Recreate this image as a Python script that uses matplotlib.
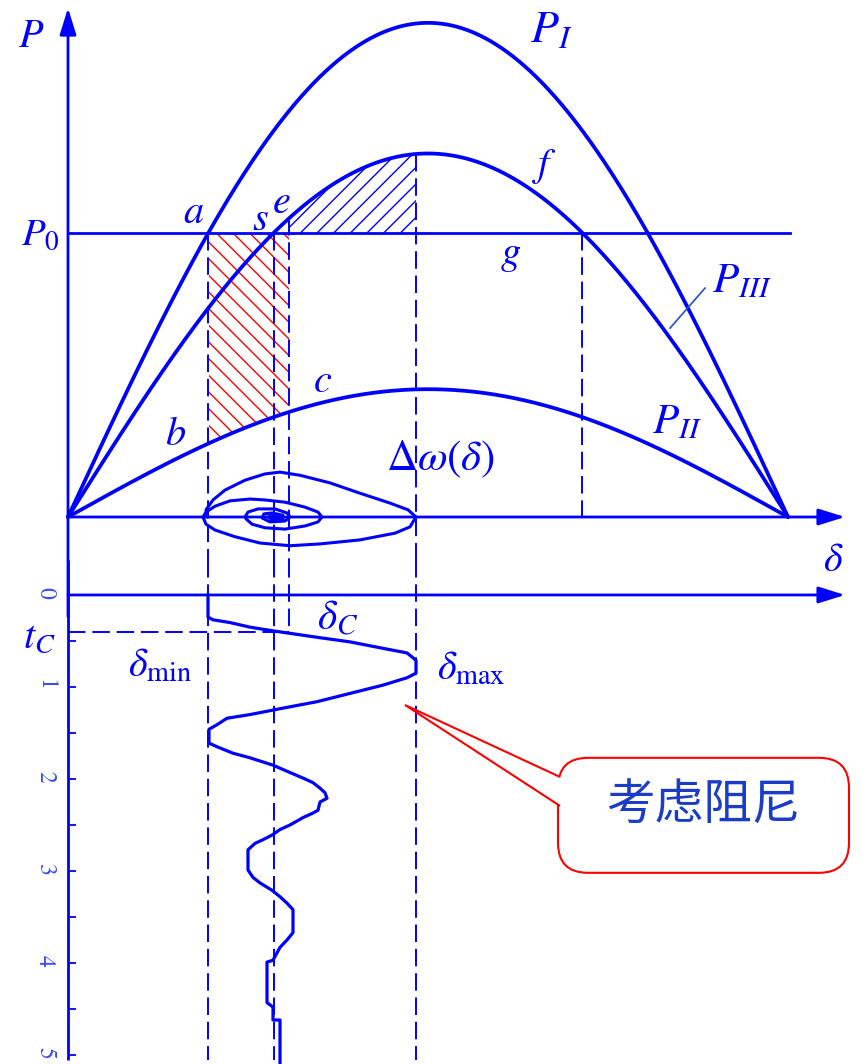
import numpy as np
import matplotlib.pyplot as plt
from matplotlib.patches import FancyBboxPatch, Polygon

plt.rcParams['mathtext.fontset'] = 'stix'
plt.rcParams['font.family'] = ['STIXGeneral', 'DejaVu Sans']
plt.rcParams['hatch.linewidth'] = 1.0

BLUE = '#0000ff'
RED = '#ff0000'

# 功角特性 (标幺值, P0 = 1)
P0 = 1.0
PI_MAX = 1.74     # 正常运行
PII_MAX = 0.45    # 故障中
PIII_MAX = 1.28   # 故障切除后
DELTA_C = 55.25   # 切除角 (deg)
DELTA_MAX = 87.0
T_C = 0.40        # 切除时间 (s)

# 相轨迹 Δω(δ)
traj_delta = [35.0, 34.5, 36.25, 39.25, 44.25, 49.25, 53.0, 58.0, 65.5, 73.0,
              80.5, 85.0, 87.0, 85.5, 81.75, 73.0, 63.0, 55.5, 48.0, 41.75,
              36.75, 34.5, 33.75, 34.5, 36.75, 40.5, 45.5, 49.25, 54.25, 59.25,
              62.5, 63.5, 62.5, 59.25, 54.25, 49.25, 46.0, 44.5, 44.25, 45.0,
              47.5, 51.75, 54.75, 55.5, 54.25, 50.5, 48.5, 49.0, 51.0, 53.75,
              53.75, 51.25, 50.0, 51.25, 52.5, 51.25]
traj_dw = [0.0, 0.16, 0.38, 0.60, 0.82, 0.96, 1.0, 0.93, 0.76, 0.53,
           0.31, 0.16, 0.0, -0.22, -0.36, -0.51, -0.60, -0.64, -0.58, -0.44,
           -0.29, -0.16, 0.0, 0.11, 0.24, 0.36, 0.40, 0.38, 0.33, 0.22,
           0.11, 0.0, -0.11, -0.20, -0.27, -0.24, -0.16, -0.04, 0.0, 0.11,
           0.18, 0.18, 0.09, 0.0, -0.09, -0.11, -0.02, 0.07, 0.09, 0.04,
           -0.04, -0.07, 0.0, 0.04, 0.0, -0.02]
DW_SCALE = 0.158  # P 轴上每单位 Δω 的高度

# 摇摆曲线 δ(t)
swing_delta = [35.0, 35.0, 36.25, 40.5, 45.5, 51.25, 62.25, 70.5, 78.75, 84.75,
               87.0, 87.0, 84.75, 78.75, 70.5, 62.25, 53.75, 45.5, 39.75, 37.25,
               35.25, 35.25, 37.25, 41.25, 45.5, 51.25, 55.5, 58.75, 61.25, 63.0,
               64.25, 64.75, 63.0, 62.5, 61.25, 58.75, 55.5, 53.0, 51.0, 48.75,
               46.75, 45.0, 45.0, 46.25, 48.0, 51.0, 53.0, 54.75, 56.25, 56.25,
               54.75, 53.0, 51.25, 49.75, 49.75, 51.25, 51.25, 53.0, 53.0]
swing_t = [0.0, 0.24, 0.27, 0.30, 0.35, 0.39, 0.46, 0.51, 0.58, 0.63,
           0.71, 0.85, 0.90, 0.98, 1.07, 1.16, 1.23, 1.30, 1.34, 1.41,
           1.46, 1.61, 1.65, 1.72, 1.77, 1.85, 1.93, 1.99, 2.04, 2.10,
           2.15, 2.21, 2.25, 2.34, 2.37, 2.42, 2.50, 2.55, 2.61, 2.66,
           2.70, 2.77, 2.99, 3.07, 3.13, 3.21, 3.28, 3.35, 3.42, 3.67,
           3.75, 3.83, 3.97, 3.99, 4.43, 4.48, 4.62, 4.62, 5.10]

T_TICKS = [0, 1, 2, 3, 4, 5]
T_MINOR = [0.5, 1.5, 2.5, 3.5, 4.5]

d = np.linspace(0, 180, 721)
p1 = PI_MAX * np.sin(np.radians(d))
p2 = PII_MAX * np.sin(np.radians(d))
p3 = PIII_MAX * np.sin(np.radians(d))
delta0 = np.degrees(np.arcsin(P0 / PI_MAX))
delta_s = np.degrees(np.arcsin(P0 / PIII_MAX))
delta_g = 180 - delta_s

fig = plt.figure(figsize=(8.64, 10.64), dpi=100)
ax = fig.add_axes([0, 504 / 1064, 1, 560 / 1064])
axt = fig.add_axes([0, 0, 1, 504 / 1064])
for a in (ax, axt):
    a.set_xlim(-17, 199)
    a.set_facecolor('none')
P_LO, P_HI = -0.1514, 1.8204
T_TOP, T_BOT = -0.380, 5.098
ax.set_ylim(P_LO, P_HI)
axt.set_ylim(T_BOT, T_TOP)
ax.axis('off')

arrow = dict(arrowstyle='-|>,head_length=0.9,head_width=0.28', color=BLUE,
             lw=2, shrinkA=0, shrinkB=0, mutation_scale=18)
ax.annotate('', xy=(0, 1.792), xytext=(0, P_LO - 0.2), arrowprops=arrow,
            annotation_clip=False)
ax.annotate('', xy=(194.25, 0), xytext=(0, 0), arrowprops=arrow)
axt.annotate('', xy=(194.25, 0), xytext=(0, 0), arrowprops=arrow)
axt.plot([0, 0], [T_TOP, 5.05], color=BLUE, lw=2, solid_capstyle='butt',
         clip_on=False)
ax.plot([0, 180.5], [P0, P0], color=BLUE, lw=2)

# 加速面积 / 减速面积
m = (d >= delta0) & (d <= DELTA_C)
ax.fill_between(d[m], p2[m], P0, facecolor='none', edgecolor=RED,
                hatch='\\\\', linewidth=0)
m = (d >= DELTA_C) & (d <= DELTA_MAX)
ax.fill_between(d[m], P0, p3[m], facecolor='none', edgecolor=BLUE,
                hatch='//', linewidth=0)

for p in (p1, p2, p3):
    ax.plot(d, p, color=BLUE, lw=2.7, solid_capstyle='round')

dash = dict(color=BLUE, lw=1.4, dashes=(9, 3.5))
ax.plot([delta0, delta0], [P0, P_LO], **dash)
ax.plot([delta_s, delta_s], [P0, P_LO], **dash)
ax.plot([DELTA_C, DELTA_C], [PIII_MAX * np.sin(np.radians(DELTA_C)), P_LO], **dash)
ax.plot([DELTA_MAX, DELTA_MAX], [PIII_MAX * np.sin(np.radians(DELTA_MAX)), P_LO], **dash)
ax.plot([delta_g, delta_g], [P0, 0], **dash)
axt.plot([delta0, delta0], [T_TOP, 5.05], **dash)
axt.plot([delta_s, delta_s], [T_TOP, 5.05], **dash)
axt.plot([DELTA_MAX, DELTA_MAX], [T_TOP, 5.05], **dash)
axt.plot([DELTA_C, DELTA_C], [T_TOP, T_C], **dash)
axt.plot([0, DELTA_C], [T_C, T_C], **dash)

# 相轨迹
axw = ax.twinx()
axw.set_ylim(P_LO / DW_SCALE, P_HI / DW_SCALE)
axw.axis('off')
axw.plot(traj_delta, traj_dw, color=BLUE, lw=2.2)

# P_III 引线
ax.plot([150.5, 159.25], [0.665, 0.806], color='#2050d0', lw=1.2)

lab = dict(color=BLUE, ha='left', va='baseline')
ax.text(-12.5, 1.655, '$P$', fontsize=29, **lab)
ax.text(-11.75, 0.958, '$P_0$', fontsize=28, **lab)
ax.text(28.75, 1.035, '$a$', fontsize=29, **lab)
ax.text(46.0, 1.011, '$s$', fontsize=29, **lab)
ax.text(51.0, 1.070, '$e$', fontsize=29, **lab)
ax.text(116.0, 1.201, '$f$', fontsize=29, **lab)
ax.text(115.5, 1.673, '$P_I$', fontsize=33, **lab)
ax.text(108.0, 0.891, '$g$', fontsize=29, **lab)
ax.text(161.0, 0.792, '$P_{III}$', fontsize=31, **lab)
ax.text(146.0, 0.296, '$P_{II}$', fontsize=31, **lab)
ax.text(61.25, 0.440, '$c$', fontsize=29, **lab)
ax.text(24.25, 0.254, '$b$', fontsize=29, **lab)
ax.text(79.5, 0.165, r'$\Delta\omega(\delta)$', fontsize=31, **lab)

axt.text(188.75, -0.261, r'$\delta$', fontsize=29, **lab)
axt.text(62.25, 0.380, r'$\delta_C$', fontsize=30, **lab)
axt.text(-11.25, 0.576, '$t_C$', fontsize=29, **lab)
axt.text(15.0, 0.891, r'$\delta_{\rm min}$', fontsize=29, **lab)
axt.text(92.25, 0.924, r'$\delta_{\rm max}$', fontsize=29, **lab)

# 摇摆曲线
axt.plot(swing_delta, swing_t, color=BLUE, lw=2.3)

for side in ('top', 'right', 'bottom'):
    axt.spines[side].set_visible(False)
axt.spines['left'].set_position(('data', 0))
axt.spines['left'].set_visible(False)
axt.set_xticks([])
axt.set_yticks(T_TICKS)
axt.set_yticks(T_MINOR, minor=True)
axt.set_yticklabels([str(v) for v in T_TICKS])
axt.tick_params(axis='y', which='both', direction='in', length=6, width=1.3,
                colors=BLUE, pad=9, labelsize=17, labelrotation=-90,
                labelcolor='#3a4bff')

# 标注框
box = FancyBboxPatch((122.5, 1.77), 72.75, 1.25,
                     boxstyle='round,pad=0,rounding_size=7.5',
                     mutation_aspect=4 / 92, fc='white', ec=RED, lw=1.5, zorder=4)
axt.add_patch(box)
tail = Polygon([(123.0, 1.978), (84.25, 1.196), (123.0, 2.293)], closed=False,
               fc='white', ec=RED, lw=1.5, zorder=5)
axt.add_patch(tail)
axt.text(158.75, 2.283, '考虑阻尼', fontfamily=['Noto Sans CJK SC'],
         fontsize=35, color='#1a3cc8', ha='center', va='center', zorder=6)

fig.savefig('out.png', dpi=100)
